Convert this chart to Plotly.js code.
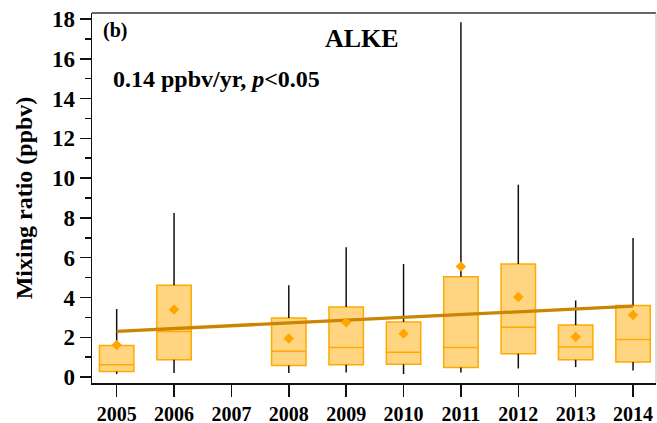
<!DOCTYPE html>
<html>
<head>
<meta charset="utf-8">
<script src="https://cdn.plot.ly/plotly-3.0.1.min.js"></script>
<style>
  html, body { margin: 0; padding: 0; background: #fff; }
  #chart { width: 657px; height: 423px; }
</style>
</head>
<body>
<div id="chart"></div>
<script>
// Yearly ALKE mixing ratios (ppbv): whiskers, quartiles, medians and means
const years       = [2005, 2006, 2008, 2009, 2010, 2011, 2012, 2013, 2014];
const whiskerLow  = [0.15, 0.20, 0.20, 0.23, 0.15, 0.23, 0.43, 0.50, 0.33];
const q1          = [0.28, 0.87, 0.58, 0.62, 0.64, 0.48, 1.17, 0.87, 0.75];
const medians     = [0.62, 2.29, 1.29, 1.49, 1.24, 1.49, 2.50, 1.51, 1.89];
const q3          = [1.59, 4.61, 2.97, 3.52, 2.77, 5.04, 5.68, 2.61, 3.59];
const whiskerHigh = [3.42, 8.25, 4.61, 6.52, 5.68, 17.84, 9.67, 3.85, 6.99];
const means       = [1.61, 3.39, 1.94, 2.75, 2.18, 5.56, 4.02, 2.01, 3.12];

// Linear trend: 0.14 ppbv/yr
const trendSlope = 0.14;
const trendStartYear = 2005;
const trendStartValue = 2.30;
const trendEndYear = 2014;

const tickYears  = [2005, 2006, 2007, 2008, 2009, 2010, 2011, 2012, 2013, 2014];
const tickLabels = ['2005', '2006', '2007', '2008', '2009', '2010', '2011', '2012', '2013', '2014'];

const serif = "'Liberation Serif', 'Times New Roman', Times, serif";

// whiskers: upper segment from Q3 to the top, lower segment from the bottom to Q1
const wx = [], wy = [];
years.forEach((yr, i) => {
  wx.push(yr, yr, null, yr, yr, null);
  wy.push(q3[i], whiskerHigh[i], null, whiskerLow[i], q1[i], null);
});

const whiskers = {
  type: 'scatter', mode: 'lines',
  x: wx, y: wy,
  line: { color: '#111111', width: 1.5 },
  hoverinfo: 'skip', showlegend: false
};

const boxes = {
  type: 'box',
  x: years,
  q1: q1, median: medians, q3: q3,
  lowerfence: q1, upperfence: q3,
  width: 0.6,
  whiskerwidth: 0,
  fillcolor: '#FFD582',
  line: { color: '#FFAA00', width: 1.5 },
  boxpoints: false,
  showlegend: false
};

const trend = {
  type: 'scatter', mode: 'lines',
  x: [trendStartYear, trendEndYear],
  y: [trendStartValue, trendStartValue + trendSlope * (trendEndYear - trendStartYear)],
  line: { color: '#CC8500', width: 3.3 },
  showlegend: false
};

const meanMarks = {
  type: 'scatter', mode: 'markers',
  x: years, y: means,
  marker: { symbol: 'diamond', size: 8, color: '#FFA500', line: { width: 0 } },
  showlegend: false
};

const layout = {
  width: 657, height: 423,
  margin: { l: 92, r: 1, t: 13, b: 40 },
  paper_bgcolor: '#ffffff',
  plot_bgcolor: '#ffffff',
  showlegend: false,
  font: { family: serif, color: '#000000' },
  xaxis: {
    range: [2004.57, 2014.4],
    tickvals: tickYears,
    ticktext: tickLabels,
    ticks: 'outside', ticklen: 12, tickwidth: 1.5, tickcolor: '#111111',
    showline: true, linecolor: '#111111', linewidth: 1.5,
    showgrid: false, zeroline: false,
    tickfont: { family: serif, size: 20, weight: 'bold', color: '#000000' }
  },
  yaxis: {
    range: [-0.3, 18.3],
    tick0: 0, dtick: 2,
    ticks: 'outside', ticklen: 11, tickwidth: 1.5, tickcolor: '#111111',
    minor: { dtick: 1, ticks: 'outside', ticklen: 6, tickwidth: 1.5, tickcolor: '#111111', showgrid: false },
    showline: true, linecolor: '#111111', linewidth: 1.5,
    showgrid: false, zeroline: false,
    tickfont: { family: serif, size: 23, weight: 'bold', color: '#000000' },
    title: { text: 'Mixing ratio (ppbv)', standoff: 12,
             font: { family: serif, size: 24, weight: 'bold', color: '#000000' } }
  },
  shapes: [
    { type: 'line', xref: 'paper', yref: 'paper', x0: 0, x1: 1, y0: 1, y1: 1,
      line: { color: '#333333', width: 1.5 } },
    { type: 'line', xref: 'paper', yref: 'paper', x0: 1, x1: 1, y0: 0, y1: 1,
      line: { color: '#bbbbbb', width: 1 } }
  ],
  annotations: [
    { xref: 'paper', yref: 'paper', x: 0.016, y: 0.954, xanchor: 'left', yanchor: 'middle',
      text: '(b)', showarrow: false,
      font: { family: serif, size: 20, weight: 'bold', color: '#000000' } },
    { xref: 'paper', yref: 'paper', x: 0.479, y: 0.930, xanchor: 'center', yanchor: 'middle',
      text: 'ALKE', showarrow: false,
      font: { family: serif, size: 26, weight: 'bold', color: '#000000' } },
    { xref: 'paper', yref: 'paper', x: 0.034, y: 0.822, xanchor: 'left', yanchor: 'middle',
      text: '0.14 ppbv/yr, <i>p</i>&lt;0.05', showarrow: false,
      font: { family: serif, size: 24, weight: 'bold', color: '#000000' } }
  ]
};

Plotly.newPlot('chart', [whiskers, boxes, trend, meanMarks], layout,
  { displayModeBar: false, staticPlot: true });
</script>
</body>
</html>
